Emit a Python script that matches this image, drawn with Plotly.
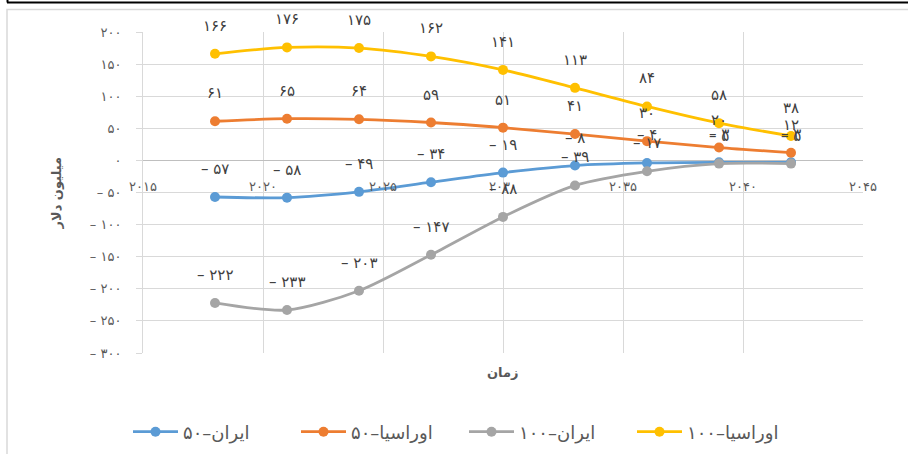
import plotly.graph_objects as go

years = [2018, 2021, 2024, 2027, 2030, 2033, 2036, 2039, 2042]
iran_50 = [-57, -58, -49, -34, -19, -8, -4, -3, -3]
eurasia_50 = [61, 65, 64, 59, 51, 41, 30, 20, 12]
iran_100 = [-222, -233, -203, -147, -88, -39, -17, -5, -5]
eurasia_100 = [166, 176, 175, 162, 141, 113, 84, 58, 38]

series_names = ["ایران–۵۰", "اوراسیا–۵۰", "ایران–۱۰۰", "اوراسیا–۱۰۰"]
series_vals = [iran_50, eurasia_50, iran_100, eurasia_100]
series_colors = ["#5B9BD5", "#ED7D31", "#A5A5A5", "#FFC000"]

x_ticks = [2015, 2020, 2025, 2030, 2035, 2040, 2045]
y_ticks = [200, 150, 100, 50, 0, -50, -100, -150, -200, -250, -300]

PERSIAN = "۰۱۲۳۴۵۶۷۸۹"


def fa(n):
    s = "".join(PERSIAN[int(c)] for c in str(abs(int(n))))
    return ("– " + s) if n < 0 else s


FONT = "DejaVu Sans"
W, H = 908, 454
L, T = 143, 32
pw, ph = 720, 321
R, B = W - L - pw, H - T - ph


def px_x(p):
    return (p - L) / pw


def px_y(p):
    return (H - B - p) / ph


fig = go.Figure()
for name, vals, col in zip(series_names, series_vals, series_colors):
    fig.add_trace(go.Scatter(
        x=years, y=vals, name=name, mode="lines+markers",
        line=dict(color=col, width=2.8, shape="spline", smoothing=0.8),
        marker=dict(color=col, size=10),
        hoverinfo="skip",
    ))

annotations = []
for vals in series_vals:
    for xv, yv in zip(years, vals):
        annotations.append(dict(
            x=xv, y=yv, xref="x", yref="y", text=fa(yv), showarrow=False,
            yshift=28, font=dict(family=FONT, size=15, color="#404040"),
        ))

annotations.append(dict(
    x=0.5, y=px_y(382), xref="paper", yref="paper", text="<b>زمان</b>",
    showarrow=False, font=dict(family=FONT, size=13, color="#595959"),
))
annotations.append(dict(
    x=px_x(47), y=px_y(193), xref="paper", yref="paper", text="<b>میلیون دلار</b>",
    textangle=-90, showarrow=False, font=dict(family=FONT, size=13, color="#595959"),
))

shapes = [
    dict(type="rect", xref="paper", yref="paper",
         x0=px_x(7), x1=px_x(930), y0=px_y(480), y1=px_y(9.5),
         line=dict(color="#D9D9D9", width=1.5), layer="below"),
    dict(type="line", xref="paper", yref="paper",
         x0=px_x(7), x1=px_x(930), y0=px_y(2.5), y1=px_y(2.5),
         line=dict(color="#000000", width=2)),
    dict(type="line", xref="paper", yref="paper",
         x0=px_x(7.5), x1=px_x(7.5), y0=px_y(2.5), y1=px_y(-5),
         line=dict(color="#000000", width=2)),
]

fig.update_layout(
    width=W, height=H,
    margin=dict(l=L, r=R, t=T, b=B, autoexpand=False),
    paper_bgcolor="white", plot_bgcolor="white",
    font=dict(family=FONT, color="#595959"),
    showlegend=True,
    legend=dict(orientation="h", x=px_x(128), xanchor="left", y=px_y(432),
                yanchor="middle", font=dict(family=FONT, size=18, color="#595959"),
                traceorder="normal", itemwidth=45, entrywidth=108),
    annotations=annotations,
    shapes=shapes,
    xaxis=dict(
        range=[2015, 2045], tickvals=x_ticks, ticktext=[fa(v) for v in x_ticks],
        showgrid=True, gridcolor="#D9D9D9", gridwidth=1,
        zeroline=False, showline=False, automargin=False,
        anchor="free", position=300 / 500,
        ticks="outside", ticklen=14, tickcolor="rgba(0,0,0,0)",
        tickfont=dict(family=FONT, size=13, color="#595959"),
    ),
    yaxis=dict(
        range=[-300, 200], tickvals=y_ticks, ticktext=[fa(v) for v in y_ticks],
        showgrid=True, gridcolor="#D9D9D9", gridwidth=1,
        zeroline=True, zerolinecolor="#BFBFBF", zerolinewidth=1,
        showline=True, linecolor="#D9D9D9", linewidth=1, automargin=False,
        ticks="outside", ticklen=6, tickcolor="#D9D9D9", ticklabelstandoff=12,
        tickfont=dict(family=FONT, size=13, color="#595959"),
    ),
)

fig.write_html("out.html", config={"displayModeBar": False},
               post_script="document.body.style.margin='0';")
